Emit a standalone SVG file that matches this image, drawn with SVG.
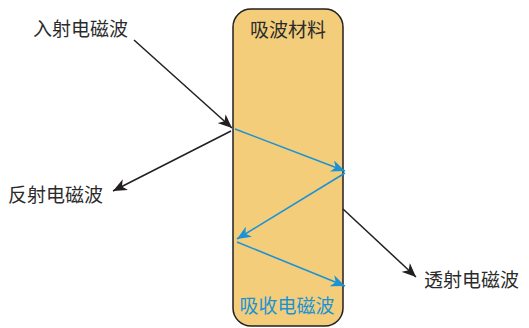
<svg xmlns="http://www.w3.org/2000/svg" width="529" height="328" viewBox="0 0 529 328">
<style>
.t{font-family:"Noto Sans CJK SC","Noto Sans",sans-serif;font-size:19px;fill:#2b2b2b}
.b{fill:#1a93d6}
.k{stroke:#231f20;stroke-width:1.5;fill:none}
.w{stroke:#1a93d6;stroke-width:1.6;fill:none}
</style>
<defs>
<marker id="ak" markerUnits="userSpaceOnUse" markerWidth="16" markerHeight="12" refX="14" refY="6" orient="auto"><path d="M0,0 L14,6 L0,12 L4,6 Z" fill="#231f20"/></marker>
<marker id="ab" markerUnits="userSpaceOnUse" markerWidth="16" markerHeight="12" refX="14" refY="6" orient="auto"><path d="M0,0 L14,6 L0,12 L4,6 Z" fill="#1a93d6"/></marker>
</defs>
<g id="material">
<rect x="233" y="9" width="110" height="317" rx="18" fill="#f3cd7a" stroke="#231f20" stroke-width="1.5"/>
<text class="t" x="288" y="37" text-anchor="middle">吸波材料</text>
</g>
<g id="incident"><text class="t" x="33" y="36">入射电磁波</text></g>
<g id="reflected"><text class="t" x="8" y="202">反射电磁波</text></g>
<g id="transmitted"><text class="t" x="424" y="287">透射电磁波</text></g>
<g id="absorbed"><text class="t b" x="287" y="313" text-anchor="middle">吸收电磁波</text></g>
<g id="connectors">
<line class="k" x1="134" y1="40" x2="232" y2="128" marker-end="url(#ak)"/>
<line class="k" x1="231" y1="131" x2="113" y2="191" marker-end="url(#ak)"/>
<line class="k" x1="343" y1="209" x2="416" y2="277" marker-end="url(#ak)"/>
<line class="w" x1="235" y1="129" x2="345" y2="171" marker-end="url(#ab)"/>
<line class="w" x1="345" y1="173" x2="237" y2="239" marker-end="url(#ab)"/>
<line class="w" x1="237" y1="242" x2="345" y2="286" marker-end="url(#ab)"/>
</g>
</svg>
